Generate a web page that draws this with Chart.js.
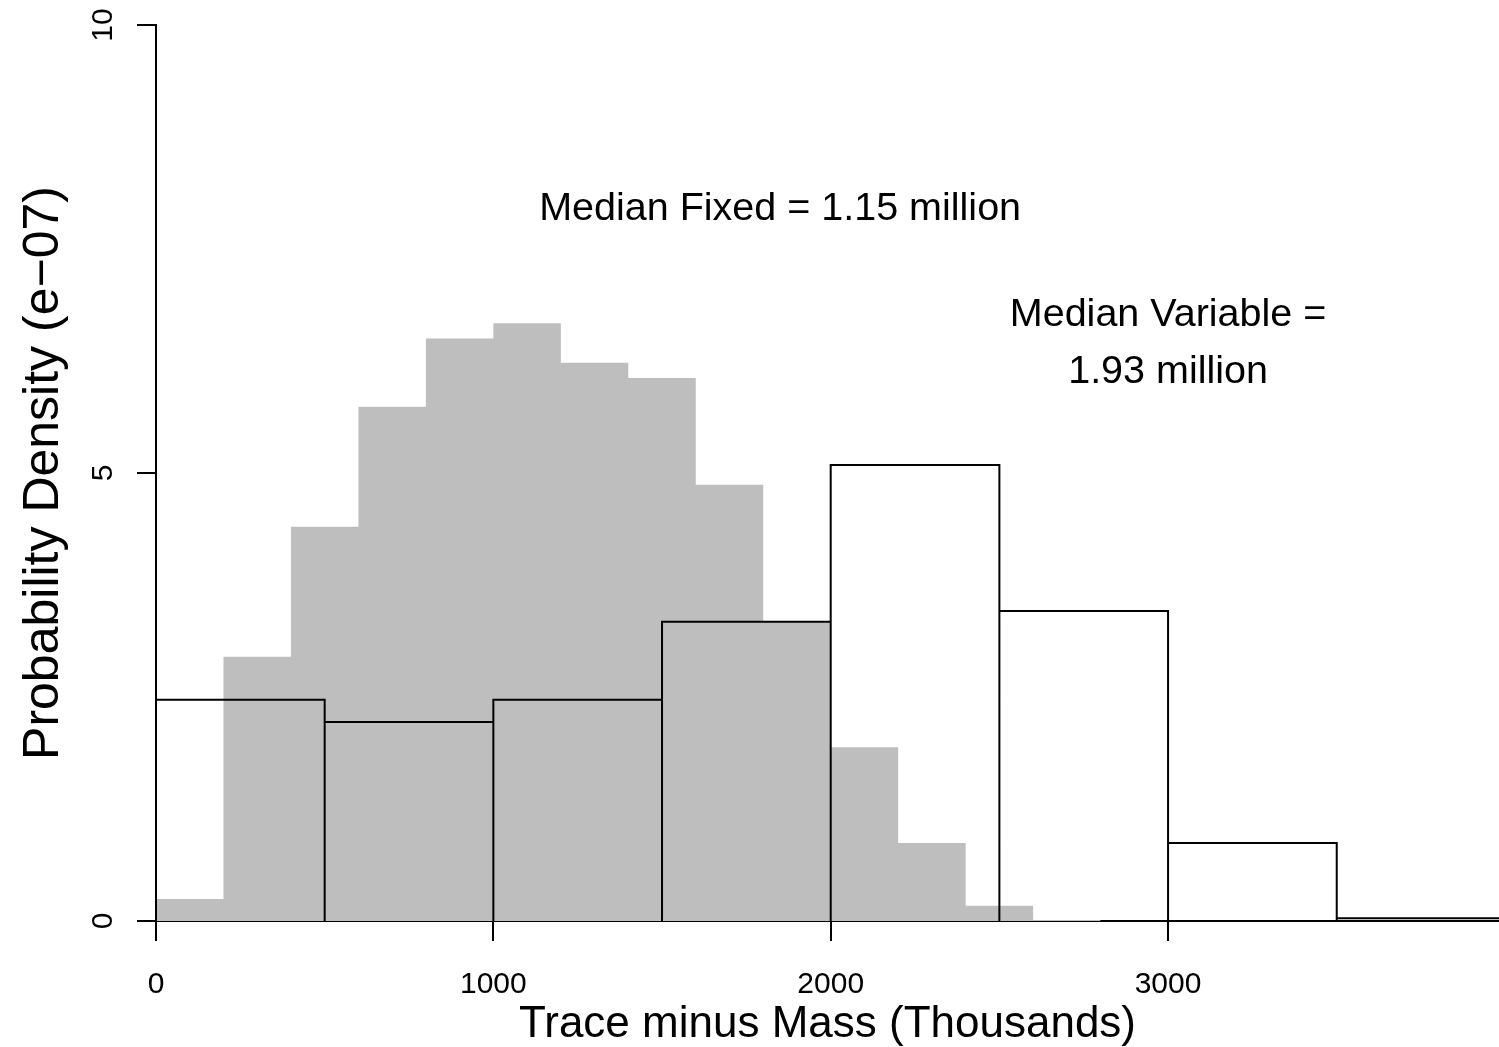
<!DOCTYPE html>
<html>
<head>
<meta charset="utf-8">
<script src="https://cdn.jsdelivr.net/npm/chart.js@4/dist/chart.umd.min.js"></script>
<style>
  html, body { margin: 0; padding: 0; background: #fff; }
  #wrap { width: 1499px; height: 1047px; position: relative; }
</style>
</head>
<body>
<div id="wrap"><canvas id="hist"></canvas></div>
<script>
// bin edges and densities (x in thousands, density in e-07)
const fixedBreaks = [0, 200, 400, 600, 800, 1000, 1200, 1400, 1600, 1800, 2000, 2200, 2400, 2600, 2800];
const fixedDensity = [0.245, 2.95, 4.40, 5.74, 6.50, 6.67, 6.23, 6.06, 4.87, 3.34, 1.94, 0.87, 0.17, 0.01];

const variableBreaks = [0, 500, 1000, 1500, 2000, 2500, 3000, 3500, 4000];
const variableDensity = [2.47, 2.22, 2.47, 3.34, 5.09, 3.46, 0.87, 0.03];

const xTicks = [0, 1000, 2000, 3000];
const yTicks = [0, 5, 10];

const notes = [
    { x: 1850, y: 8, lines: ['Median Fixed = 1.15 million'] },
    { x: 3000, y: 6.5, lines: ['Median Variable =', '1.93 million'] }
];

// rectangle outline path for each bin
function binPath(breaks, dens) {
    const pts = [];
    for (let i = 0; i < dens.length; i++) {
        pts.push({ x: breaks[i], y: 0 });
        pts.push({ x: breaks[i], y: dens[i] });
        pts.push({ x: breaks[i + 1], y: dens[i] });
        pts.push({ x: breaks[i + 1], y: 0 });
    }
    return pts;
}

Chart.defaults.font.family = '"Liberation Sans", Arial, sans-serif';
Chart.defaults.color = '#000';

const extras = {
    id: 'extras',
    afterDraw(chart) {
        const ctx = chart.ctx;
        const xs = chart.scales.x, ys = chart.scales.y;
        ctx.save();
        ctx.fillStyle = '#000';
        // y tick labels, rotated like R's default
        ctx.font = '30px "Liberation Sans", Arial, sans-serif';
        ctx.textAlign = 'center';
        ctx.textBaseline = 'alphabetic';
        yTicks.forEach(v => {
            ctx.save();
            ctx.translate(112, ys.getPixelForValue(v));
            ctx.rotate(-Math.PI / 2);
            ctx.fillText(String(v), 0, 0);
            ctx.restore();
        });
        // median notes
        ctx.font = '39.5px "Liberation Sans", Arial, sans-serif';
        ctx.textBaseline = 'middle';
        notes.forEach(n => {
            const px = xs.getPixelForValue(n.x);
            const py = ys.getPixelForValue(n.y) + 5;
            const lh = 57;
            const top = py - (n.lines.length - 1) * lh / 2;
            n.lines.forEach((t, i) => ctx.fillText(t, px, top + i * lh));
        });
        ctx.restore();
    }
};

new Chart(document.getElementById('hist'), {
    type: 'line',
    data: {
        datasets: [
            {
                label: 'Variable',
                data: binPath(variableBreaks, variableDensity),
                borderColor: '#000',
                borderWidth: 2,
                fill: false,
                pointRadius: 0,
                tension: 0,
                order: 1
            },
            {
                label: 'Fixed',
                data: binPath(fixedBreaks, fixedDensity),
                borderColor: '#bebebe',
                borderWidth: 0,
                backgroundColor: '#bebebe',
                fill: 'origin',
                pointRadius: 0,
                tension: 0,
                order: 2
            }
        ]
    },
    options: {
        responsive: true,
        maintainAspectRatio: false,
        animation: false,
        layout: { padding: { top: 25, left: 0, right: 0, bottom: 0 } },
        plugins: {
            legend: { display: false },
            tooltip: { enabled: false }
        },
        scales: {
            x: {
                type: 'linear',
                min: 0,
                max: 3981,
                afterBuildTicks: s => { s.ticks = xTicks.map(v => ({ value: v })); },
                afterFit: s => { s.height = 126; },
                grid: { drawOnChartArea: false, drawTicks: true, tickLength: 20, color: '#000', lineWidth: 2 },
                border: { color: '#000', width: 2 },
                ticks: { font: { size: 30 }, padding: 26, maxRotation: 0, callback: v => String(v) },
                title: {
                    display: true,
                    text: 'Trace minus Mass (Thousands)',
                    font: { size: 44, lineHeight: 1 },
                    padding: { top: 0, bottom: 0 }
                }
            },
            y: {
                min: 0,
                max: 10,
                afterBuildTicks: s => { s.ticks = yTicks.map(v => ({ value: v })); },
                afterFit: s => { s.width = 156; },
                grid: { drawOnChartArea: false, drawTicks: true, tickLength: 19, color: '#000', lineWidth: 2 },
                border: { color: '#000', width: 2 },
                ticks: { display: false },
                title: {
                    display: true,
                    text: 'Probability Density (e\u221207)',
                    font: { size: 50, lineHeight: 1 },
                    padding: { top: 19, bottom: 0 }
                }
            }
        }
    },
    plugins: [extras]
});
</script>
</body>
</html>
